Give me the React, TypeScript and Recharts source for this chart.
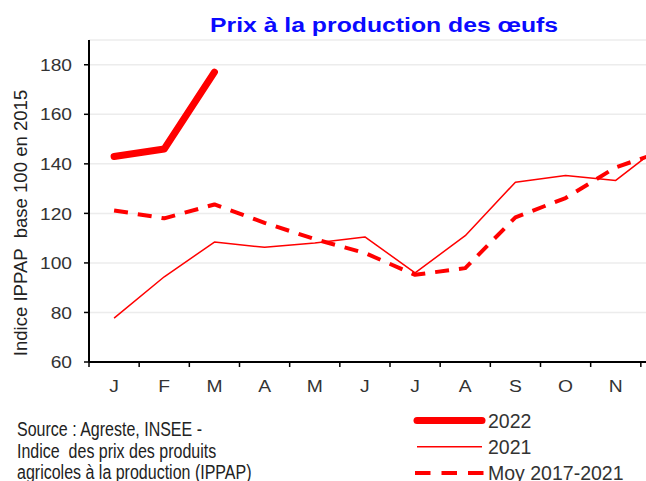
import React from 'react';
import { LineChart, Line, XAxis, YAxis, CartesianGrid } from 'recharts';

const months = ['J', 'F', 'M', 'A', 'M', 'J', 'J', 'A', 'S', 'O', 'N', 'D'];
const y2022 = [143, 146, 177];
const y2021 = [77.7, 94.4, 108.4, 106.3, 108, 110.5, 96, 111, 132.6, 135.3, 133.3, 149];
const moy = [121.2, 118, 123.6, 116.2, 109.6, 104, 95.2, 97.9, 118.4, 126.2, 138.6, 145.5];
const yTicks = [60, 80, 100, 120, 140, 160, 180];

const sourceLines = [
  'Source : Agreste, INSEE -',
  'Indice  des prix des produits',
  'agricoles à la production (IPPAP)',
];

const series = [
  { key: 'y2022', name: '2022', width: 7, dash: undefined as string | undefined },
  { key: 'y2021', name: '2021', width: 1.5, dash: undefined as string | undefined },
  { key: 'moy', name: 'Moy 2017-2021', width: 4, dash: '14 10' },
];

const data = months.map((m, i) => ({
  month: m,
  y2022: y2022[i],
  y2021: y2021[i],
  moy: moy[i],
}));

const FONT = '"Liberation Sans", Arial, sans-serif';
const RED = '#ff0000';
const W = 700;
const H = 400;
const M = { top: 32, right: 17, left: 0, bottom: 0 };
const Y_W = 81;
const HALF = (W - M.right - Y_W) / 24;

const MonthTick = (props: any) => {
  const { x, y, payload } = props;
  return (
    <g>
      <line x1={x - HALF} x2={x - HALF} y1={y} y2={y + 5} stroke="#000" strokeWidth={1.5} />
      <text
        transform={`translate(${x},${y + 30}) scale(1.17,1)`}
        textAnchor="middle" fill="#333" fontSize={16.5} fontFamily={FONT}
      >
        {payload.value}
      </text>
    </g>
  );
};

const ValueTick = (props: any) => {
  const { x, y, payload } = props;
  return (
    <text
      transform={`translate(${x},${y}) scale(1.13,1)`}
      dy="0.36em" textAnchor="end" fill="#333" fontSize={17} fontFamily={FONT}
    >
      {payload.value}
    </text>
  );
};

export default function App() {
  return (
    <div
      style={{
        position: 'relative', width: 646, height: 481, overflow: 'hidden',
        fontFamily: FONT, background: '#fff',
      }}
    >
      <style>{'body { margin: 0; }'}</style>
      <div style={{ position: 'absolute', left: 8, top: 8, width: 700, height: 473 }}>
        <div
          style={{
            position: 'absolute', left: 0, top: 6, width: 752, textAlign: 'center',
            color: '#0a0aff', fontWeight: 'bold', fontSize: 19.5, lineHeight: '22px',
            whiteSpace: 'pre',
          }}
        >
          <span style={{ display: 'inline-block', transform: 'scaleX(1.27)' }}>
            Prix à la production des œufs
          </span>
        </div>
        <div style={{ position: 'absolute', left: 13, top: 215, width: 0, height: 0 }}>
          <div
            style={{
              position: 'absolute', left: -160, top: -11, width: 320, textAlign: 'center',
              fontSize: 17.5, color: '#222', transform: 'rotate(-90deg) scaleX(1.06)',
              whiteSpace: 'pre', lineHeight: '22px',
            }}
          >
            {'Indice IPPAP  base 100 en 2015'}
          </div>
        </div>
        <div style={{ position: 'absolute', left: 0, top: 0 }}>
          <LineChart width={W} height={H} data={data} margin={M}>
            <CartesianGrid horizontal vertical={false} stroke="#ececec" strokeWidth={1.5} />
            <XAxis
              dataKey="month"
              padding={{ left: HALF, right: HALF }}
              tickLine={false}
              tickSize={0}
              tickMargin={0}
              tick={<MonthTick />}
              interval={0}
              axisLine={{ stroke: '#000', strokeWidth: 2 }}
              height={46}
            />
            <YAxis
              domain={[60, 190]}
              ticks={yTicks}
              width={Y_W}
              tickSize={5}
              tickMargin={12}
              axisLine={{ stroke: '#000', strokeWidth: 2 }}
              tickLine={{ stroke: '#000', strokeWidth: 1.5 }}
              tick={<ValueTick />}
            />
            {series.map((s) => (
              <Line
                key={s.key}
                dataKey={s.key}
                name={s.name}
                type="linear"
                stroke={RED}
                strokeWidth={s.width}
                strokeDasharray={s.dash}
                strokeLinecap={s.key === 'y2022' ? 'round' : 'butt'}
                strokeLinejoin="round"
                dot={false}
                activeDot={false}
                isAnimationActive={false}
              />
            ))}
          </LineChart>
        </div>
        <div
          style={{
            position: 'absolute', left: 9, top: 411, fontSize: 20, color: '#222',
            lineHeight: '21.5px', transform: 'scaleX(0.8)', transformOrigin: '0 0',
          }}
        >
          {sourceLines.map((l, i) => (
            <div key={i} style={{ whiteSpace: 'pre' }}>{l}</div>
          ))}
        </div>
        <svg style={{ position: 'absolute', left: 400, top: 400 }} width={300} height={80}>
          {series.map((s, i) => {
            const ly = 12.5 + i * 26.3;
            return (
              <g key={s.key}>
                <line
                  x1={s.dash ? 7 : 9} x2={s.dash ? 76 : 74} y1={ly} y2={ly}
                  stroke={RED} strokeWidth={s.width} strokeDasharray={s.dash ? '15.5 11' : undefined}
                  strokeLinecap={s.key === 'y2022' ? 'round' : 'butt'}
                />
                <text x={80} y={ly + 7} fontSize={19.5} fill="#333" fontFamily={FONT}>
                  {s.name}
                </text>
              </g>
            );
          })}
        </svg>
      </div>
    </div>
  );
}
